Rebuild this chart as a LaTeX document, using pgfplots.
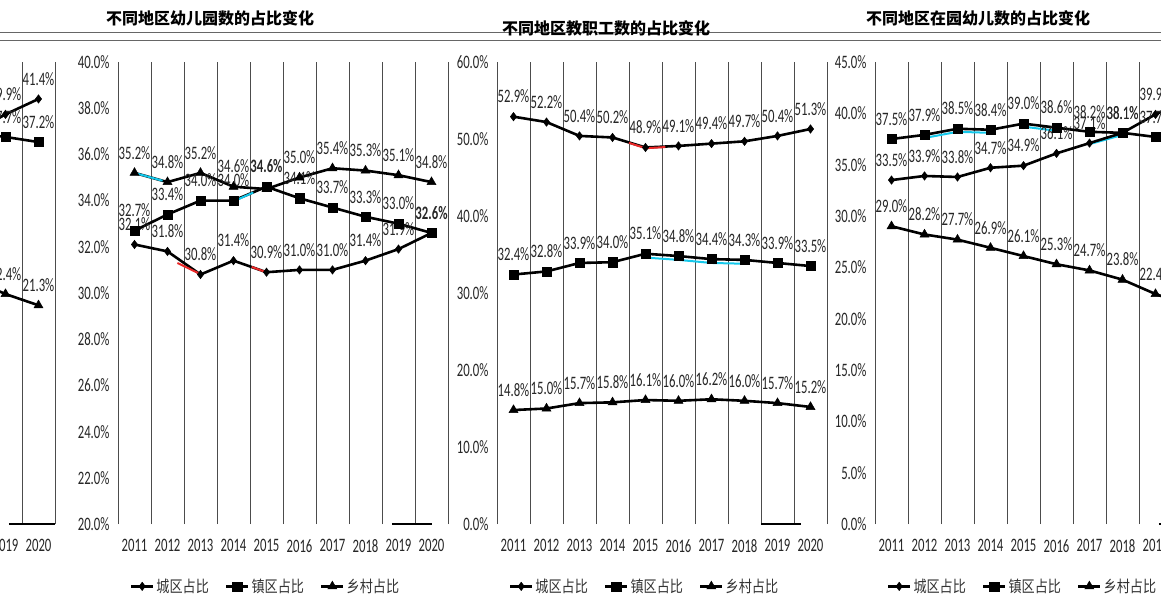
\documentclass[border=0pt]{standalone}
\usepackage{pgfplots}
\pgfplotsset{compat=1.18}
\usepackage{fontspec}
\setmainfont{Carlito}[FakeStretch=0.67]
\newfontfamily\cjk{Noto Sans CJK SC}[FakeStretch=0.82]
\newfontfamily\cjktitle{Noto Sans CJK SC}
\definecolor{glcyan}{RGB}{20,200,235}
\definecolor{glred}{RGB}{235,40,40}
\pgfplotsset{
  panel/.style={
    scale only axis, width=330pt, height=462pt,
    xmin=-0.5, xmax=9.5,
    axis line style={draw=none},
    xtick={0,1,2,3,4,5,6,7,8,9},
    xticklabels={2011,2012,2013,2014,2015,2016,2017,2018,2019,2020},
    minor xtick={-0.5,0.5,1.5,2.5,3.5,4.5,5.5,6.5,7.5,8.5,9.5},
    xminorgrids, minor grid style={black!70, line width=0.8pt},
    major tick length=0pt, minor tick length=0pt,
    tick style={draw=none},
    ticklabel style={font=\fontsize{19}{19}\selectfont, text=black!85},
    xticklabel style={yshift=-12pt},
    yticklabel style={xshift=-5pt},
    clip=false,
    every node near coord/.append style={font=\fontsize{19}{19}\selectfont, text=black!85, yshift=10pt},
    legend columns=3,
    legend style={draw=none, fill=none, font={\cjk\fontsize{16}{16}\selectfont}, text=black!80,
      at={(0.447,-0.135)}, anchor=center,
      /tikz/every even column/.append style={column sep=14pt}},
    legend image code/.code={\draw[mark repeat=2,mark phase=2,#1] plot coordinates {(0pt,0pt) (11pt,0pt) (22pt,0pt)};},
  },
  base/.style={line width=2.6pt, black, nodes near coords, point meta=explicit symbolic},
  cq/.style={base, mark=diamond*, mark size=4.2pt, mark options={solid, fill=black, line width=0.5pt}},
  zq/.style={base, mark=square*, mark size=4.6pt, mark options={solid, fill=black, line width=0.5pt}},
  xc/.style={base, mark=triangle*, mark size=5.2pt, mark options={solid, fill=black, line width=0.5pt}},
  gl/.style={forget plot, no marks, line width=2pt, #1},
}
\newcommand{\panelthree}[2]{%
\begin{axis}[panel, at={(#1,73pt)}, anchor=south west,
  ymin=0, ymax=45, ytick={0,5,10,15,20,25,30,35,40,45},
  yticklabels={0.0\%,5.0\%,10.0\%,15.0\%,20.0\%,25.0\%,30.0\%,35.0\%,40.0\%,45.0\%}]
\addplot[gl=glcyan] coordinates {(1,37.6) (2,38.2) (3,38.1)};
\addplot[gl=glcyan] coordinates {(4,38.7) (5,38.3)};
\addplot[gl=glcyan] coordinates {(6,37.0) (7,37.9)};
\addplot[cq] coordinates {(0,33.5)[33.5\%] (1,33.9)[33.9\%] (2,33.8)[33.8\%] (3,34.7)[34.7\%] (4,34.9)[34.9\%] (5,36.1)[36.1\%] (6,37.1)[37.1\%] (7,38.1)[38.1\%] (8,39.9)[39.9\%] (9,41.4)[41.4\%]};
\addplot[zq] coordinates {(0,37.5)[37.5\%] (1,37.9)[37.9\%] (2,38.5)[38.5\%] (3,38.4)[38.4\%] (4,39.0)[39.0\%] (5,38.6)[38.6\%] (6,38.2)[38.2\%] (7,38.1)[38.1\%] (8,37.7)[37.7\%] (9,37.2)[37.2\%]};
\addplot[xc] coordinates {(0,29.0)[29.0\%] (1,28.2)[28.2\%] (2,27.7)[27.7\%] (3,26.9)[26.9\%] (4,26.1)[26.1\%] (5,25.3)[25.3\%] (6,24.7)[24.7\%] (7,23.8)[23.8\%] (8,22.4)[22.4\%] (9,21.3)[21.3\%]};
#2
\draw[line width=1.5pt] (axis cs:8.1,0) -- (axis cs:9.5,0);
\end{axis}}
\begin{document}
\begin{tikzpicture}[x=1pt,y=1pt]
\useasboundingbox (0,0) rectangle (1161,597);
\clip (0,0) rectangle (1161,597);
\fill[white] (0,0) rectangle (1161,597);
% panel 1
\begin{axis}[panel, at={(118pt,73pt)}, anchor=south west,
  ymin=20, ymax=40, ytick={20,22,24,26,28,30,32,34,36,38,40},
  yticklabels={20.0\%,22.0\%,24.0\%,26.0\%,28.0\%,30.0\%,32.0\%,34.0\%,36.0\%,38.0\%,40.0\%}]
\addplot[cq] coordinates {(0,32.1)[32.1\%] (1,31.8)[31.8\%] (2,30.8)[30.8\%] (3,31.4)[31.4\%] (4,30.9)[30.9\%] (5,31.0)[31.0\%] (6,31.0)[31.0\%] (7,31.4)[31.4\%] (8,31.9)[31.9\%] (9,32.6)[{}]};
\addplot[zq] coordinates {(0,32.7)[32.7\%] (1,33.4)[33.4\%] (2,34.0)[34.0\%] (3,34.0)[34.0\%] (4,34.6)[{\bfseries 34.6\%}] (5,34.1)[34.1\%] (6,33.7)[33.7\%] (7,33.3)[33.3\%] (8,33.0)[33.0\%] (9,32.6)[{\bfseries 32.6\%}]};
\addplot[xc] coordinates {(0,35.2)[35.2\%] (1,34.8)[34.8\%] (2,35.2)[35.2\%] (3,34.6)[34.6\%] (4,34.5)[{}] (5,35.0)[35.0\%] (6,35.4)[35.4\%] (7,35.3)[35.3\%] (8,35.1)[35.1\%] (9,34.8)[34.8\%]};
\legend{城区占比,镇区占比,乡村占比}
\addplot[gl=glcyan] coordinates {(0,35.2) (0.85,34.86)};
\addplot[gl=glcyan] coordinates {(3.05,34.0) (3.6,34.35)};
\addplot[gl=glred] coordinates {(1.3,31.3) (1.95,30.85)};
\addplot[gl=glred] coordinates {(3.55,31.13) (3.95,30.92)};
\draw[line width=1.5pt] (axis cs:7.8,20) -- (axis cs:9.0,20);
\end{axis}
% panel 2
\begin{axis}[panel, at={(497pt,73pt)}, anchor=south west,
  ymin=0, ymax=60, ytick={0,10,20,30,40,50,60},
  yticklabels={0.0\%,10.0\%,20.0\%,30.0\%,40.0\%,50.0\%,60.0\%}]
\addplot[gl=glcyan] coordinates {(4,34.6) (5,34.3) (6,33.9) (7,33.8)};
\addplot[cq] coordinates {(0,52.9)[52.9\%] (1,52.2)[52.2\%] (2,50.4)[50.4\%] (3,50.2)[50.2\%] (4,48.9)[48.9\%] (5,49.1)[49.1\%] (6,49.4)[49.4\%] (7,49.7)[49.7\%] (8,50.4)[50.4\%] (9,51.3)[51.3\%]};
\addplot[zq] coordinates {(0,32.4)[32.4\%] (1,32.8)[32.8\%] (2,33.9)[33.9\%] (3,34.0)[34.0\%] (4,35.1)[35.1\%] (5,34.8)[34.8\%] (6,34.4)[34.4\%] (7,34.3)[34.3\%] (8,33.9)[33.9\%] (9,33.5)[33.5\%]};
\addplot[xc] coordinates {(0,14.8)[14.8\%] (1,15.0)[15.0\%] (2,15.7)[15.7\%] (3,15.8)[15.8\%] (4,16.1)[16.1\%] (5,16.0)[16.0\%] (6,16.2)[16.2\%] (7,16.0)[16.0\%] (8,15.7)[15.7\%] (9,15.2)[15.2\%]};
\legend{城区占比,镇区占比,乡村占比}
\addplot[gl=glred] coordinates {(3.5,49.5) (4,48.8) (4.6,48.95)};
\draw[line width=1.5pt] (axis cs:7.5,0) -- (axis cs:8.7,0);
\end{axis}
% panel 3 and its wrapped copy at the left edge
\panelthree{875pt}{\legend{城区占比,镇区占比,乡村占比}}
\panelthree{-275pt}{}
% titles and title-band lines
\draw[black!60, line width=0.8pt] (0,565) -- (1161,565);
\draw[black!60, line width=0.8pt] (0,557) -- (1161,557);
\node[font={\cjktitle\bfseries\fontsize{16}{16}\selectfont}, fill=white, inner sep=1pt] at (210,579) {不同地区幼儿园数的占比变化};
\node[font={\cjktitle\bfseries\fontsize{16}{16}\selectfont}, inner sep=1pt] at (606,569) {不同地区教职工数的占比变化};
\node[font={\cjktitle\bfseries\fontsize{16}{16}\selectfont}, fill=white, inner sep=1pt] at (978,579) {不同地区在园幼儿数的占比变化};
\end{tikzpicture}
\end{document}
